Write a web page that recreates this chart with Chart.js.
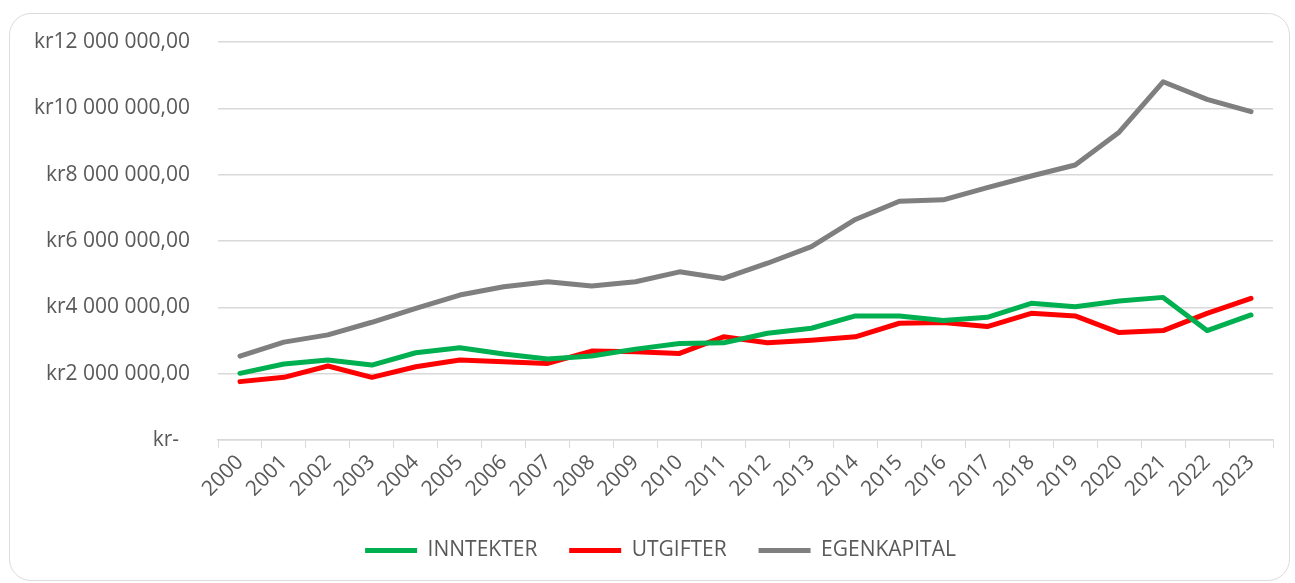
<!DOCTYPE html>
<html>
<head>
<meta charset="utf-8">
<script src="https://cdn.jsdelivr.net/npm/chart.js@4"></script>
<style>
    html, body { margin: 0; padding: 0; background: #ffffff; }
    #card {
        position: absolute;
        left: 9px; top: 13px;
        width: 1281px; height: 568px;
        border: 1.5px solid #dcdcdc;
        border-radius: 22px;
        box-sizing: border-box;
    }
    #wrap { position: absolute; left: 0; top: 0; width: 1295px; height: 583px; }
</style>
</head>
<body>
<div id="card"></div>
<div id="wrap"><canvas id="chart" width="1295" height="583"></canvas></div>
<script>
const years = ['2000', '2001', '2002', '2003', '2004', '2005', '2006', '2007', '2008', '2009', '2010', '2011',
               '2012', '2013', '2014', '2015', '2016', '2017', '2018', '2019', '2020', '2021', '2022', '2023'];

const inntekter = [2010000, 2290000, 2410000, 2260000, 2630000, 2780000, 2590000, 2440000, 2530000, 2740000, 2910000, 2930000,
                   3220000, 3370000, 3740000, 3740000, 3600000, 3700000, 4120000, 4020000, 4190000, 4300000, 3300000, 3770000];

const utgifter = [1760000, 1890000, 2230000, 1890000, 2210000, 2410000, 2360000, 2310000, 2680000, 2660000, 2610000, 3110000,
                  2930000, 3010000, 3110000, 3520000, 3540000, 3420000, 3820000, 3740000, 3240000, 3300000, 3820000, 4270000];

const egenkapital = [2530000, 2950000, 3170000, 3550000, 3970000, 4370000, 4620000, 4770000, 4640000, 4770000, 5070000, 4870000,
                     5330000, 5830000, 6650000, 7200000, 7240000, 7610000, 7960000, 8290000, 9280000, 10800000, 10270000, 9900000];

const yTicks = [0, 2000000, 4000000, 6000000, 8000000, 10000000, 12000000];

const textColor = '#595959';
const gridColor = '#d9d9d9';
const fontFamily = '"Open Sans", sans-serif';

function krFormat(value) {
    if (value === 0) return 'kr-  ';
    const digits = String(Math.round(value)).replace(/\B(?=(\d{3})+(?!\d))/g, ' ');
    return 'kr' + digits + ',00';
}

function lineSet(label, data, color) {
    return {
        label: label,
        data: data,
        borderColor: color,
        backgroundColor: color,
        borderWidth: 5,
        borderCapStyle: 'round',
        borderJoinStyle: 'round',
        pointRadius: 0,
        pointHoverRadius: 0,
        pointStyle: 'line',
        tension: 0,
        fill: false
    };
}

// the legend in the original sits a bit right of the canvas centre
const legendShift = {
    id: 'legendShift',
    afterLayout(chart) {
        if (chart.legend) {
            chart.legend.left += 24;
            chart.legend.right += 24;
        }
    }
};

new Chart(document.getElementById('chart').getContext('2d'), {
    type: 'line',
    data: {
        labels: years,
        datasets: [
            lineSet('INNTEKTER', inntekter, '#00b050'),
            lineSet('UTGIFTER', utgifter, '#ff0000'),
            lineSet('EGENKAPITAL', egenkapital, '#7f7f7f')
        ]
    },
    plugins: [legendShift],
    options: {
        responsive: false,
        animation: false,
        layout: { padding: { left: 0, right: 22, top: 42, bottom: 12 } },
        plugins: {
            tooltip: { enabled: false },
            legend: {
                position: 'bottom',
                labels: {
                    usePointStyle: true,
                    pointStyleWidth: 52,
                    boxHeight: 21,
                    padding: 10,
                    color: textColor,
                    font: { family: fontFamily, size: 21 },
                    generateLabels: function(chart) {
                        const items = Chart.defaults.plugins.legend.labels.generateLabels(chart);
                        // extra room between the entries, like the original
                        items.forEach((it, i) => {
                            if (i < items.length - 1) it.text = it.text + '    ';
                        });
                        return items;
                    }
                }
            }
        },
        scales: {
            x: {
                offset: true,
                afterFit: function(scale) { scale.height = 90; },
                grid: {
                    offset: true,
                    drawOnChartArea: false,
                    drawTicks: true,
                    tickLength: 8,
                    color: gridColor
                },
                border: { display: true, color: gridColor, width: 1.5 },
                ticks: {
                    color: textColor,
                    font: { family: fontFamily, size: 21 },
                    minRotation: 45,
                    maxRotation: 45,
                    autoSkip: false,
                    padding: 2
                }
            },
            y: {
                min: 0,
                max: 12000000,
                afterFit: function(scale) { scale.width = 218; },
                afterBuildTicks: function(scale) { scale.ticks = yTicks.map(v => ({ value: v })); },
                grid: { color: gridColor, lineWidth: 1.5, drawTicks: false },
                border: { display: false },
                ticks: {
                    color: textColor,
                    font: { family: fontFamily, size: 21 },
                    padding: 28,
                    callback: function(value) { return krFormat(value); }
                }
            }
        }
    }
});
</script>
</body>
</html>
